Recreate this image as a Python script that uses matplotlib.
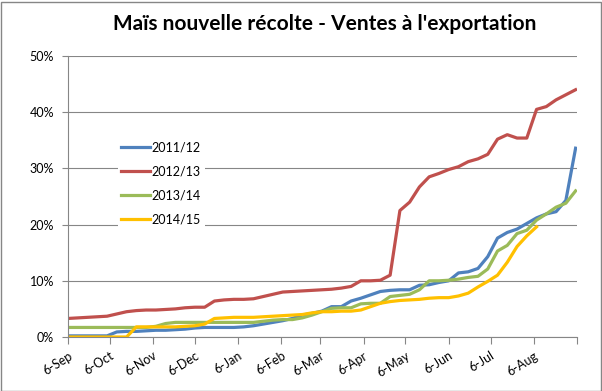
import matplotlib
matplotlib.use("Agg")
import matplotlib.pyplot as plt
from matplotlib.ticker import PercentFormatter, FixedLocator
import pandas as pd

plt.rcParams['font.family'] = ['Lato', 'DejaVu Sans']

weeks = pd.date_range("2014-09-06", periods=53, freq="7D")

s_2011 = [0.2, 0.2, 0.2, 0.2, 0.2, 0.9, 1.0, 1.0, 1.1, 1.2,
          1.2, 1.3, 1.4, 1.6, 1.7, 1.7, 1.7, 1.7, 1.8, 2.0,
          2.3, 2.6, 2.9, 3.3, 3.9, 4.2, 4.6, 5.4, 5.4, 6.4,
          6.9, 7.5, 8.1, 8.3, 8.4, 8.4, 9.2, 9.3, 9.7, 10.0,
          11.4, 11.6, 12.2, 14.3, 17.6, 18.6, 19.2, 20.2, 21.2, 21.9,
          22.3, 24.3, 33.6]
s_2012 = [3.3, 3.4, 3.5, 3.6, 3.7, 4.1, 4.5, 4.7, 4.8, 4.8,
          4.9, 5.0, 5.2, 5.3, 5.3, 6.4, 6.6, 6.7, 6.7, 6.8,
          7.2, 7.6, 8.0, 8.1, 8.2, 8.3, 8.4, 8.5, 8.7, 9.0,
          10.0, 10.0, 10.1, 11.0, 22.5, 24.0, 26.7, 28.5, 29.1, 29.8,
          30.3, 31.2, 31.7, 32.5, 35.2, 36.0, 35.4, 35.4, 40.5, 41.0,
          42.2, 43.1, 44.0]
s_2013 = [1.7, 1.7, 1.7, 1.7, 1.7, 1.7, 1.7, 1.7, 1.7, 1.9,
          2.4, 2.6, 2.6, 2.6, 2.6, 2.6, 2.6, 2.6, 2.6, 2.6,
          2.8, 3.0, 3.1, 3.1, 3.4, 3.9, 4.5, 5.1, 5.2, 5.2,
          5.9, 6.0, 6.0, 7.2, 7.4, 7.6, 8.4, 10.0, 10.0, 10.1,
          10.3, 10.6, 10.8, 12.1, 15.3, 16.3, 18.4, 19.0, 20.8, 21.9,
          23.1, 23.8, 26.0]
s_2014 = [0.0, 0.0, 0.0, 0.0, 0.0, 0.0, 0.0, 1.8, 1.8, 1.8,
          1.8, 1.8, 1.9, 2.0, 2.3, 3.3, 3.4, 3.5, 3.5, 3.5,
          3.6, 3.7, 3.8, 3.9, 4.0, 4.3, 4.5, 4.5, 4.6, 4.6,
          4.8, 5.4, 6.0, 6.3, 6.5, 6.6, 6.7, 6.9, 7.0, 7.0,
          7.3, 7.8, 8.9, 9.9, 11.0, 13.3, 16.1, 18.0, 19.6]

labels = ["2011/12", "2012/13", "2013/14", "2014/15"]
series = [s_2011, s_2012, s_2013, s_2014]
colors = ["#4F81BD", "#C0504D", "#9BBB59", "#FFC000"]

fig = plt.figure(figsize=(6.02, 3.91), dpi=100)
fig.patches.append(plt.Rectangle((0.5 / 602, 0.5 / 391), 1 - 2 / 602, 1 - 2 / 391,
                                 transform=fig.transFigure, fill=False,
                                 edgecolor="#868686", linewidth=1))
ax = fig.add_axes([68 / 602, 1 - 337 / 391, 509 / 602, 281 / 391])

for lab, vals, c in zip(labels, series, colors):
    ax.plot(weeks[:len(vals)], [v / 100 for v in vals], color=c, lw=2.3,
            label=lab, solid_joinstyle="round")

ax.set_ylim(0, 0.5)
ax.set_xlim(pd.Timestamp("2014-09-06"), pd.Timestamp("2015-09-06"))
ax.yaxis.set_major_locator(FixedLocator([0, 0.1, 0.2, 0.3, 0.4, 0.5]))
ax.yaxis.set_major_formatter(PercentFormatter(1.0, decimals=0))
ax.grid(axis="y", color="#868686", lw=0.8)
ax.set_axisbelow(True)

# ticks on the 6th of every month
ticks = pd.date_range("2014-09-01", "2015-09-01", freq="MS") + pd.Timedelta(days=5)
ax.set_xticks(ticks)
ax.set_xticklabels([t.strftime("%-d-%b") for t in ticks[:-1]] + [""],
                   rotation=32, ha="right", rotation_mode="anchor")
ax.tick_params(axis="x", length=5, color="#868686", labelsize=9, pad=4)
ax.tick_params(axis="y", length=4, color="#868686", labelsize=9, pad=6)

for side in ["top", "right"]:
    ax.spines[side].set_visible(False)
for side in ["left", "bottom"]:
    ax.spines[side].set_color("#868686")

leg = ax.legend(loc="upper left", bbox_to_anchor=(0.085, 0.73), frameon=True,
                fontsize=9, handlelength=2.3, handletextpad=0.15,
                labelspacing=0.95, borderpad=0.3)
leg.get_frame().set_facecolor("white")
leg.get_frame().set_edgecolor("none")
leg.get_frame().set_alpha(1)

fig.suptitle("Maïs nouvelle récolte - Ventes à l'exportation", x=325 / 602,
             y=1 - 14 / 391, fontsize=15, fontweight="bold", va="top")

fig.savefig("out.png", dpi=100)
